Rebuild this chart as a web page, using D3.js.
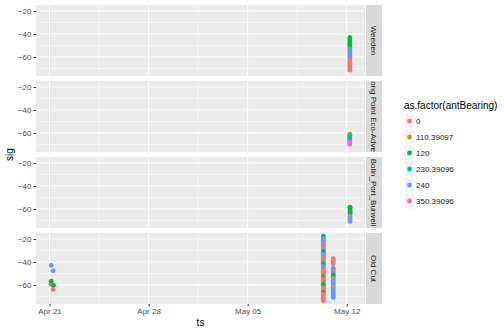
<!DOCTYPE html>
<html><head><meta charset="utf-8">
<script src="https://cdn.jsdelivr.net/npm/d3@7"></script>
<style>body{margin:0;background:#fff}svg{display:block;font-family:"Liberation Sans",Arial,sans-serif}</style>
</head><body><svg id="c" width="504" height="332"></svg>
<script>
// ---- data ----
const sites = ["Weeden", "Long Point Eco-Adven", "Bolin_Port_Burwell", "Old Cut"];
const bearings = ["0", "110.39097", "120", "230.39096", "240", "350.39096"];
const bearingColors = ["#F8766D", "#B79F00", "#00BA38", "#00BFC4", "#619CFF", "#F564E3"];
const xTickLabels = ["2016-04-21", "2016-04-28", "2016-05-05", "2016-05-12"];
const yTickValues = [-20, -40, -60];

// [timestamp, sig, antBearing]
const weeden = [
  ["2016-05-12T05:20", -43, "120"], ["2016-05-12T05:20", -44.5, "120"], ["2016-05-12T05:20", -46, "120"],
  ["2016-05-12T05:20", -47.5, "120"], ["2016-05-12T05:20", -49, "120"], ["2016-05-12T05:20", -50.5, "120"],
  ["2016-05-12T05:20", -52, "120"],
  ["2016-05-12T05:20", -53.5, "240"], ["2016-05-12T05:20", -55, "240"], ["2016-05-12T05:20", -56.5, "240"],
  ["2016-05-12T05:20", -58, "240"], ["2016-05-12T05:20", -59.5, "240"], ["2016-05-12T05:20", -61, "240"],
  ["2016-05-12T05:20", -62.5, "0"], ["2016-05-12T05:20", -64, "0"], ["2016-05-12T05:20", -65.5, "0"],
  ["2016-05-12T05:20", -67, "0"], ["2016-05-12T05:20", -68.5, "0"], ["2016-05-12T05:20", -70, "0"],
  ["2016-05-12T05:20", -71.5, "0"]
];
const longPoint = [
  ["2016-05-12T05:20", -61, "110.39097"], ["2016-05-12T05:20", -62, "110.39097"],
  ["2016-05-12T05:20", -63, "230.39096"], ["2016-05-12T05:20", -64, "230.39096"], ["2016-05-12T05:20", -65, "230.39096"],
  ["2016-05-12T05:20", -66, "230.39096"], ["2016-05-12T05:20", -67, "230.39096"],
  ["2016-05-12T05:20", -68, "350.39096"], ["2016-05-12T05:20", -69, "350.39096"], ["2016-05-12T05:20", -70, "350.39096"]
];
const bolin = [
  ["2016-05-12T05:40", -58.5, "120"], ["2016-05-12T05:40", -60, "120"], ["2016-05-12T05:40", -61.5, "120"],
  ["2016-05-12T05:40", -63, "120"], ["2016-05-12T05:40", -64.5, "120"],
  ["2016-05-12T05:40", -66.5, "0"],
  ["2016-05-12T05:40", -68, "240"], ["2016-05-12T05:40", -69.5, "240"], ["2016-05-12T05:40", -71, "240"]
];
const oldCut = [
  ["2016-04-21T02:50", -43, "240"], ["2016-04-21T06:15", -47.7, "240"],
  ["2016-04-21T02:25", -59.6, "0"], ["2016-04-21T06:15", -64, "0"],
  ["2016-04-21T02:50", -56.7, "120"], ["2016-04-21T06:40", -60.2, "120"],
  ["2016-05-10T08:24", -17.6, "120"], ["2016-05-10T08:24", -19.5, "240"], ["2016-05-10T08:24", -21, "240"],
  ["2016-05-10T08:24", -22.5, "240"], ["2016-05-10T08:24", -24, "0"], ["2016-05-10T08:24", -25.5, "240"],
  ["2016-05-10T08:24", -27, "0"], ["2016-05-10T08:24", -28.5, "0"], ["2016-05-10T08:24", -30, "240"],
  ["2016-05-10T08:24", -31.5, "120"], ["2016-05-10T08:24", -33, "240"], ["2016-05-10T08:24", -34.5, "240"],
  ["2016-05-10T08:24", -36, "0"], ["2016-05-10T08:24", -37.5, "0"], ["2016-05-10T08:24", -39, "0"],
  ["2016-05-10T08:24", -40.5, "240"], ["2016-05-10T08:24", -42, "120"], ["2016-05-10T08:24", -43.5, "240"],
  ["2016-05-10T08:24", -45, "240"], ["2016-05-10T08:24", -46.5, "0"], ["2016-05-10T08:24", -48, "0"],
  ["2016-05-10T08:24", -49.5, "0"], ["2016-05-10T08:24", -51, "0"], ["2016-05-10T08:24", -53, "120"],
  ["2016-05-10T08:24", -54.5, "0"], ["2016-05-10T08:24", -56, "0"], ["2016-05-10T08:24", -57.5, "0"],
  ["2016-05-10T08:24", -59.5, "120"], ["2016-05-10T08:24", -61, "120"], ["2016-05-10T08:24", -62.5, "0"],
  ["2016-05-10T08:24", -64, "0"], ["2016-05-10T08:24", -65.5, "0"], ["2016-05-10T08:24", -66.5, "120"],
  ["2016-05-10T08:24", -68, "0"], ["2016-05-10T08:24", -69.5, "0"], ["2016-05-10T08:24", -71, "0"],
  ["2016-05-10T08:24", -72.5, "0"], ["2016-05-10T08:24", -73.8, "0"],
  ["2016-05-11T01:12", -37.2, "0"], ["2016-05-11T01:12", -38.6, "0"], ["2016-05-11T01:12", -40, "0"],
  ["2016-05-11T01:12", -41.6, "0"], ["2016-05-11T01:12", -45.5, "240"], ["2016-05-11T01:12", -47, "240"],
  ["2016-05-11T01:12", -48.5, "0"], ["2016-05-11T01:12", -50, "240"], ["2016-05-11T01:12", -51.5, "120"],
  ["2016-05-11T01:12", -53, "120"], ["2016-05-11T01:12", -54.5, "0"], ["2016-05-11T01:12", -56, "240"],
  ["2016-05-11T01:12", -57.5, "240"], ["2016-05-11T01:12", -59, "240"], ["2016-05-11T01:12", -60.5, "240"],
  ["2016-05-11T01:12", -62, "0"], ["2016-05-11T01:12", -63.5, "240"], ["2016-05-11T01:12", -65, "240"],
  ["2016-05-11T01:12", -66.5, "240"], ["2016-05-11T01:12", -68, "240"], ["2016-05-11T01:12", -69.5, "240"],
  ["2016-05-11T01:12", -71, "240"]
];
const siteData = [weeden, longPoint, bolin, oldCut];

// ---- layout ----
const svg = d3.select("#c");
const parse = d3.utcParse("%Y-%m-%dT%H:%M");
const parseDay = d3.utcParse("%Y-%m-%d");
const panelL = 36, panelR = 365, panelTop = 5, panelH = 71, panelGap = 5;
const stripW = 16;
const all = siteData.flat();
function expand(ext, f) { const r = ext[1] - ext[0]; return [ext[0] - f * r, ext[1] + f * r]; }
const tExt = d3.extent(all, d => parse(d[0]).getTime());
const tDom = expand(tExt, 0.05);
const x = d3.scaleUtc().domain([new Date(tDom[0]), new Date(tDom[1])]).range([panelL, panelR]);
const yDom = expand(d3.extent(all, d => d[1]), 0.05);
const color = d3.scaleOrdinal().domain(bearings).range(bearingColors);

const majorX = xTickLabels.map(parseDay);
const minorX = [];
for (let i = 0; i < majorX.length - 1; i++) minorX.push(new Date((majorX[i].getTime() + majorX[i + 1].getTime()) / 2));
minorX.push(new Date(majorX[majorX.length - 1].getTime() + 3.5 * 864e5));
minorX.unshift(new Date(majorX[0].getTime() - 3.5 * 864e5));
const minorY = [-10, -30, -50, -70];
const fmt = d3.utcFormat("%b %d");

sites.forEach((site, i) => {
  const top = panelTop + i * (panelH + panelGap);
  const y = d3.scaleLinear().domain(yDom).range([top + panelH, top]);
  const g = svg.append("g");
  g.append("rect").attr("x", panelL).attr("y", top).attr("width", panelR - panelL).attr("height", panelH).attr("fill", "#EBEBEB");
  const clipId = "pc" + i;
  svg.append("clipPath").attr("id", clipId).append("rect").attr("x", panelL).attr("y", top).attr("width", panelR - panelL).attr("height", panelH);
  const grid = g.append("g").attr("clip-path", `url(#${clipId})`);
  grid.selectAll(".mx").data(minorX).join("line").attr("x1", d => x(d)).attr("x2", d => x(d)).attr("y1", top).attr("y2", top + panelH).attr("stroke", "#fff").attr("stroke-width", 0.5);
  grid.selectAll(".my").data(minorY).join("line").attr("x1", panelL).attr("x2", panelR).attr("y1", d => y(d)).attr("y2", d => y(d)).attr("stroke", "#fff").attr("stroke-width", 0.5);
  grid.selectAll(".Mx").data(majorX).join("line").attr("x1", d => x(d)).attr("x2", d => x(d)).attr("y1", top).attr("y2", top + panelH).attr("stroke", "#fff").attr("stroke-width", 1);
  grid.selectAll(".My").data(yTickValues).join("line").attr("x1", panelL).attr("x2", panelR).attr("y1", d => y(d)).attr("y2", d => y(d)).attr("stroke", "#fff").attr("stroke-width", 1);
  // points
  grid.selectAll("circle").data(siteData[i]).join("circle")
    .attr("cx", d => x(parse(d[0]))).attr("cy", d => y(d[1])).attr("r", 2.4)
    .attr("fill", d => color(d[2]));
  // y axis
  const ya = svg.append("g").attr("transform", `translate(${panelL},0)`)
    .call(d3.axisLeft(y).tickValues(yTickValues).tickSize(2.5).tickPadding(2).tickFormat(d3.format("d")));
  ya.select(".domain").remove();
  ya.selectAll("line").attr("stroke", "#333").attr("stroke-width", 1);
  ya.selectAll("text").attr("fill", "#4D4D4D").attr("font-size", 8).style("font-family", "Liberation Sans, Arial, sans-serif");
  // strip
  const sx = panelR + 1;
  svg.append("rect").attr("x", sx).attr("y", top).attr("width", stripW).attr("height", panelH).attr("fill", "#D9D9D9");
  const sclip = "sc" + i;
  svg.append("clipPath").attr("id", sclip).append("rect").attr("x", sx).attr("y", top).attr("width", stripW).attr("height", panelH);
  svg.append("g").attr("clip-path", `url(#${sclip})`).append("text")
    .attr("transform", `translate(${sx + stripW / 2},${top + panelH / 2}) rotate(90)`)
    .attr("text-anchor", "middle").attr("dy", "0.35em").attr("font-size", 8).attr("fill", "#1A1A1A").text(site);
});

// x axis
const bottom = panelTop + 4 * panelH + 3 * panelGap;
const xa = svg.append("g").attr("transform", `translate(0,${bottom})`)
  .call(d3.axisBottom(x).tickValues(majorX).tickFormat(fmt).tickSize(2.5).tickPadding(2));
xa.select(".domain").remove();
xa.selectAll("line").attr("stroke", "#333").attr("stroke-width", 1);
xa.selectAll("text").attr("fill", "#4D4D4D").attr("font-size", 8).style("font-family", "Liberation Sans, Arial, sans-serif");

// axis titles
svg.append("text").attr("x", (panelL + panelR) / 2).attr("y", 326).attr("text-anchor", "middle").attr("font-size", 10).attr("fill", "#000").text("ts");
svg.append("text").attr("transform", `translate(13,${(panelTop + bottom) / 2}) rotate(-90)`).attr("text-anchor", "middle").attr("font-size", 10).attr("fill", "#000").text("sig");

// legend
const lg = svg.append("g").attr("transform", "translate(404,0)");
lg.append("text").attr("x", 0).attr("y", 109).attr("font-size", 10).attr("fill", "#000").text("as.factor(antBearing)");
const rows = lg.selectAll(".k").data(bearings).join("g").attr("transform", (d, i) => `translate(0,${113 + i * 16})`);
rows.append("rect").attr("x", 0.5).attr("y", 0).attr("width", 10).attr("height", 16).attr("fill", "#F2F2F2").attr("stroke", "#fff");
rows.append("circle").attr("cx", 5.5).attr("cy", 8).attr("r", 2.4).attr("fill", d => color(d));
rows.append("text").attr("x", 12).attr("y", 8).attr("dy", "0.35em").attr("font-size", 8).attr("fill", "#1A1A1A").text(d => d);
</script></body></html>
